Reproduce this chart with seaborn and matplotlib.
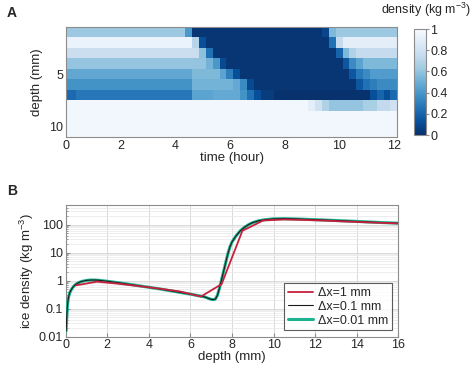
import numpy as np
import pandas as pd
import matplotlib
matplotlib.use("Agg")
import matplotlib.pyplot as plt
import seaborn as sns

# ---- panel A data: density rows (depth 1..11 mm), run-length (value, n columns)
# columns are time 0..12 h every 0.25 h (49 columns)
times = [0.25 * k for k in range(49)]
depths = list(range(1, 12))
row_runs = [
    [(0.62, 18), (0.40, 1), (0.02, 19), (0.08, 1), (0.55, 1), (0.62, 9)],
    [(0.93, 19), (0.70, 1), (0.12, 1), (0.02, 18), (0.25, 1), (0.75, 1), (0.90, 8)],
    [(0.77, 20), (0.58, 1), (0.25, 1), (0.02, 18), (0.20, 1), (0.55, 1), (0.68, 1), (0.75, 6)],
    [(0.60, 21), (0.52, 1), (0.40, 1), (0.10, 1), (0.02, 17), (0.15, 1), (0.35, 1), (0.45, 1), (0.55, 5)],
    [(0.47, 19), (0.55, 4), (0.45, 1), (0.30, 1), (0.12, 1), (0.02, 16), (0.15, 1), (0.28, 1), (0.35, 1), (0.42, 4)],
    [(0.38, 19), (0.52, 6), (0.48, 1), (0.35, 1), (0.10, 1), (0.02, 15), (0.15, 1), (0.25, 1), (0.30, 1), (0.35, 3)],
    [(0.22, 2), (0.27, 17), (0.45, 3), (0.48, 4), (0.38, 1), (0.25, 1), (0.12, 1), (0.05, 2), (0.01, 14),
     (0.12, 1), (0.20, 1), (0.12, 1), (0.22, 1)],
    [(0.97, 36), (0.90, 1), (0.80, 1), (0.68, 1), (0.60, 5), (0.66, 2), (0.74, 2), (0.80, 1)],
    [(0.97, 49)],
    [(0.97, 49)],
    [(0.97, 49)],
]

# ---- panel B data
fine_x = [0.02, 0.05, 0.08, 0.12, 0.16, 0.2, 0.3, 0.4, 0.5, 0.6, 0.7, 0.8, 1.0, 1.2, 1.4, 1.6,
          2.0, 2.5, 3.0, 3.5, 4.0, 4.5, 5.0, 5.5, 6.0, 6.5, 6.7, 6.85, 7.0, 7.1, 7.2, 7.3, 7.4,
          7.5, 7.6, 7.7, 7.8, 7.9, 8.0, 8.2, 8.4, 8.6, 8.8, 9.0, 9.3, 9.6, 10.0, 10.5, 11.0,
          12.0, 13.0, 14.0, 15.0, 16.0]
fine_y = [0.016, 0.05, 0.12, 0.22, 0.3, 0.38, 0.52, 0.65, 0.75, 0.83, 0.9, 0.95, 1.02, 1.05,
          1.05, 1.03, 0.95, 0.85, 0.75, 0.66, 0.58, 0.51, 0.44, 0.38, 0.33, 0.28, 0.26, 0.235,
          0.215, 0.21, 0.22, 0.3, 0.55, 1.1, 2.2, 4.5, 9.0, 16.0, 24.0, 40.0, 60.0, 80.0, 100.0,
          118.0, 138.0, 150.0, 160.0, 163.0, 160.0, 150.0, 140.0, 130.0, 120.0, 112.0]
coarse_x = [0.5, 1.5, 2.5, 3.5, 4.5, 5.5, 6.5, 7.5, 8.5, 9.5, 10.5, 11.5, 12.5, 13.5, 14.5, 15.5, 16.0]
coarse_y = [0.68, 0.92, 0.78, 0.64, 0.52, 0.41, 0.27, 0.75, 60.0, 140.0, 152.0, 146.0, 138.0,
            128.0, 120.0, 113.0, 110.0]

sns.set_style("white")
plt.rcParams['font.family'] = ['Liberation Sans', 'DejaVu Sans']
plt.rcParams['mathtext.default'] = 'regular'

grey = '#8c8c8c'
fig = plt.figure(figsize=(4.73, 3.68), dpi=100)

# ---------------- panel A
rows = []
for runs in row_runs:
    r = []
    for v, n in runs:
        r += [v] * n
    rows.append(r)
dens = pd.DataFrame(rows, index=depths, columns=times)

axA = fig.add_axes([65.7 / 473, (368 - 137) / 368, 331.6 / 473, 110 / 368])
cax = fig.add_axes([414 / 473, (368 - 135) / 368, 12 / 473, 106 / 368])
sns.heatmap(dens, ax=axA, cmap='Blues_r', vmin=0, vmax=1, cbar_ax=cax,
            xticklabels=False, yticklabels=False)
axA.set_xlim(0.5, 49)
axA.set_ylim(10.5, 0)
axA.set_xticks([0.5 + 8 * j for j in range(7)])
axA.set_xticklabels([str(2 * j) for j in range(7)], rotation=0, fontsize=9)
axA.set_yticks([4.5, 9.5])
axA.set_yticklabels(['5', '10'], rotation=0, fontsize=9)
axA.set_xlabel('time (hour)', fontsize=9.5, labelpad=0)
axA.set_ylabel('depth (mm)', fontsize=9.5, labelpad=4)
for s in axA.spines.values():
    s.set_visible(True)
    s.set_color(grey)
    s.set_linewidth(0.8)
axA.tick_params(length=0, pad=2)

cb = axA.collections[0].colorbar
cb.set_ticks([0, 0.2, 0.4, 0.6, 0.8, 1])
cb.set_ticklabels(['0', '0.2', '0.4', '0.6', '0.8', '1'])
cb.ax.tick_params(labelsize=9, length=2, color=grey, pad=1)
cb.outline.set_visible(True)
cb.outline.set_edgecolor(grey)
cb.outline.set_linewidth(0.8)
fig.text(471 / 473, 1 - 10 / 368, 'density (kg m$^{-3}$)', ha='right', va='center', fontsize=9)

fig.text(7 / 473, 1 - 13 / 368, 'A', fontsize=10, fontweight='bold', va='center')
fig.text(7 / 473, 1 - 191 / 368, 'B', fontsize=10, fontweight='bold', va='center')

# ---------------- panel B
axB = fig.add_axes([65.7 / 473, (368 - 336.7) / 368, 332.6 / 473, 131.7 / 368])
axB.set_yscale('log')
axB.grid(True, which='major', color='#d4d4d4', lw=0.6)
axB.grid(True, which='minor', axis='y', color='#e8e8e8', lw=0.5)
axB.set_axisbelow(True)

fine = pd.DataFrame({'depth': fine_x, 'rho': fine_y})
coarse = pd.DataFrame({'depth': coarse_x, 'rho': coarse_y})
sns.lineplot(data=fine, x='depth', y='rho', ax=axB, color='#1db391', lw=2.2,
             label='Δx=0.01 mm', zorder=3)
sns.lineplot(data=fine, x='depth', y='rho', ax=axB, color='#1a1a1a', lw=0.8,
             label='Δx=0.1 mm', zorder=4)
sns.lineplot(data=coarse, x='depth', y='rho', ax=axB, color='#c8203c', lw=1.3,
             label='Δx=1 mm', zorder=5)

axB.set_xlim(0, 16)
axB.set_ylim(0.01, 500)
axB.set_xticks(range(0, 17, 2))
axB.set_yticks([0.01, 0.1, 1, 10, 100])
axB.set_yticklabels(['0.01', '0.1', '1', '10', '100'])
axB.tick_params(axis='both', which='major', labelsize=9, direction='in', length=3,
                color=grey, pad=2, left=True, bottom=True)
axB.tick_params(axis='y', which='minor', direction='in', length=1.5, color=grey, left=True)
axB.set_xlabel('depth (mm)', fontsize=9.5, labelpad=0)
axB.set_ylabel('ice density (kg m$^{-3}$)', fontsize=9.5, labelpad=2)
for s in axB.spines.values():
    s.set_color(grey)
    s.set_linewidth(0.8)

h, l = axB.get_legend_handles_labels()
leg = axB.legend(h[::-1], l[::-1], loc='lower right', fontsize=9, frameon=True,
                 fancybox=False, edgecolor='#333333', handlelength=2.0, labelspacing=0.15,
                 borderaxespad=0.5, borderpad=0.3, handletextpad=0.4)
leg.get_frame().set_linewidth(0.8)

fig.savefig('out.png', dpi=100)
